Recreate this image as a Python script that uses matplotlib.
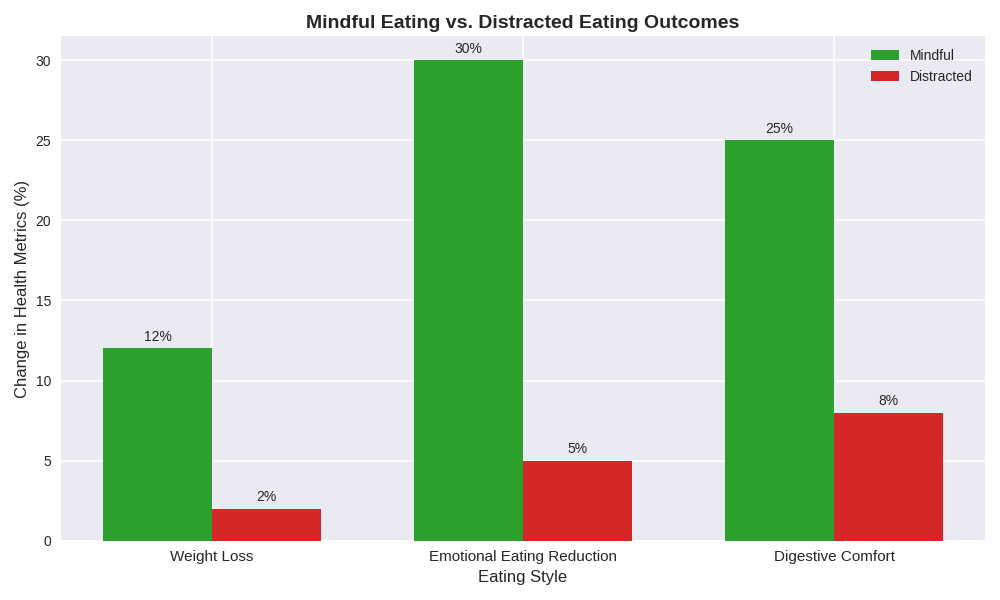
import matplotlib
matplotlib.use("Agg")
import matplotlib.pyplot as plt
import numpy as np

plt.style.use('seaborn-v0_8-darkgrid')
plt.rcParams['font.family'] = ['Liberation Sans', 'DejaVu Sans']
plt.rcParams['grid.linewidth'] = 1.3

categories = ['Weight Loss', 'Emotional Eating Reduction', 'Digestive Comfort']
mindful = [12, 30, 25]
distracted = [2, 5, 8]

x = np.arange(len(categories))
width = 0.35

fig, ax = plt.subplots(figsize=(10, 6), dpi=100)
b1 = ax.bar(x - width / 2, mindful, width, label='Mindful', color='#2ca02c')
b2 = ax.bar(x + width / 2, distracted, width, label='Distracted', color='#d62728')

# value labels above the bars
for bars in (b1, b2):
    for bar in bars:
        h = bar.get_height()
        ax.annotate(f'{h:g}%', xy=(bar.get_x() + bar.get_width() / 2, h),
                    xytext=(0, 3), textcoords='offset points',
                    ha='center', va='bottom', fontsize=10)

ax.set_xticks(x)
ax.set_xticklabels(categories, fontsize=11)
ax.set_xlabel('Eating Style', fontsize=12)
ax.set_ylabel('Change in Health Metrics (%)', fontsize=12)
ax.set_title('Mindful Eating vs. Distracted Eating Outcomes', fontsize=14, fontweight='bold')
ax.legend(loc='upper right')

# a bit more room between the axes and the tick labels
ax.tick_params(axis='both', pad=plt.rcParams['xtick.major.pad'] + 3.6)

plt.tight_layout()
plt.savefig('out.png')
